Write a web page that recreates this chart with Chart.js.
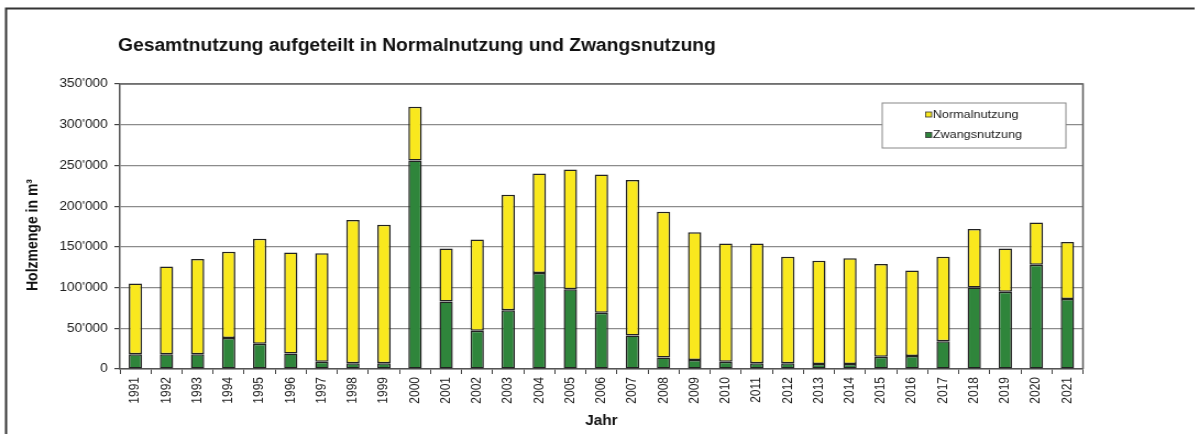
<!DOCTYPE html>
<html>
<head>
<meta charset="utf-8">
<script src="https://cdn.jsdelivr.net/npm/chart.js@4"></script>
<style>
  html, body { margin: 0; padding: 0; background: #fff; overflow: hidden; width: 1196px; height: 434px; }
  /* the reference is stretched horizontally ~1.1x, so we draw narrow and stretch */
  #wrap { width: 1090px; height: 434px; transform: scaleX(1.1); transform-origin: 0 0; }
</style>
</head>
<body>
<div id="wrap"><canvas id="chart1" width="1090" height="434"></canvas></div>
<script>
var years = ["1991","1992","1993","1994","1995","1996","1997","1998","1999","2000",
  "2001","2002","2003","2004","2005","2006","2007","2008","2009","2010",
  "2011","2012","2013","2014","2015","2016","2017","2018","2019","2020","2021"];

// Zwangsnutzung (bottom, green)
var zwang = [18000,18000,18000,38000,31000,19000,9000,7000,7000,256000,
  83000,47000,72000,118000,98000,69000,41000,14000,11000,9000,
  7000,7000,6000,6000,15000,16000,34000,100000,95000,128000,86000];

// Normalnutzung (top, yellow)
var normal = [87000,108000,117000,106000,129000,124000,133000,176000,170000,66000,
  65000,112000,142000,122000,147000,170000,191000,179000,157000,145000,
  147000,131000,127000,130000,114000,105000,104000,72000,53000,52000,70000];

var yTicks = [0,50000,100000,150000,200000,250000,300000,350000];

var titleText = "Gesamtnutzung aufgeteilt in Normalnutzung und Zwangsnutzung";
var yTitleText = "Holzmenge in m³";
var green = "#2f853b";
var yellow = "#f9e81e";

function fmt(v) {
  return String(v).replace(/\B(?=(\d{3})+(?!\d))/g, "'");
}

const ctx = document.getElementById("chart1");

var myChart = new Chart(ctx, {
  type: "bar",
  data: {
    labels: years,
    datasets: [
      {
        label: "Zwangsnutzung",
        data: zwang,
        backgroundColor: green,
        borderColor: "#222",
        borderWidth: 1.5,
        borderSkipped: false,
        barPercentage: 0.43,
        categoryPercentage: 1,
      },
      {
        label: "Normalnutzung",
        data: normal,
        backgroundColor: yellow,
        borderColor: "#222",
        borderWidth: 1.5,
        borderSkipped: false,
        barPercentage: 0.43,
        categoryPercentage: 1,
      },
    ],
  },
  options: {
    responsive: false,
    animation: false,
    devicePixelRatio: 1,
    events: [],
    layout: {
      padding: { left: 0, top: 84, right: 105.5, bottom: 0 },
    },
    plugins: {
      legend: { display: false },
      tooltip: { enabled: false },
    },
    scales: {
      x: {
        stacked: true,
        afterFit: function (scale) {
          scale.height = 65;
        },
        grid: {
          drawOnChartArea: false,
          tickLength: 5,
          tickColor: "#444",
        },
        border: { color: "#555", width: 1.5 },
        ticks: {
          minRotation: 90,
          maxRotation: 90,
          padding: 3,
          autoSkip: false,
          color: "#222",
          font: { family: "Liberation Sans", size: 12 },
        },
        title: {
          display: true,
          text: "Jahr",
          color: "#111",
          padding: { top: 0, bottom: 4 },
          font: { family: "Liberation Sans", size: 14, weight: "bold" },
        },
      },
      y: {
        stacked: true,
        min: 0,
        max: 350000,
        afterFit: function (scale) {
          scale.width = 109;
        },
        afterBuildTicks: function (scale) {
          scale.ticks = yTicks.map(function (v) { return { value: v }; });
        },
        grid: {
          color: "#8c8c8c",
          lineWidth: 1.2,
          tickLength: 5,
          tickColor: "#444",
        },
        border: { color: "#555", width: 1.5 },
        ticks: {
          padding: 6,
          color: "#222",
          font: { family: "Liberation Sans", size: 12.5 },
          callback: function (value) {
            return fmt(value);
          },
        },
      },
    },
  },
  plugins: [
    {
      id: "frameAndTitle",
      beforeDraw: (chart) => {
        const c = chart.ctx;
        c.save();
        c.fillStyle = "#fff";
        c.fillRect(0, 0, chart.width, chart.height);
        // outer frame (top + left)
        c.strokeStyle = "#333";
        c.lineWidth = 2;
        c.beginPath();
        c.moveTo(5.5, chart.height);
        c.lineTo(5.5, 8.5);
        c.lineTo(1086, 8.5);
        c.stroke();
        // title
        c.fillStyle = "#111";
        c.font = "bold 17.5px 'Liberation Sans'";
        c.textBaseline = "alphabetic";
        c.fillText(titleText, 107.3, 50.5);
        // y axis title, a bit below the plot centre like the original
        c.save();
        c.translate(30, 235);
        c.rotate(-Math.PI / 2);
        c.font = "bold 14px 'Liberation Sans'";
        c.textAlign = "center";
        c.textBaseline = "middle";
        c.fillText(yTitleText, 0, 0);
        c.restore();
        c.restore();
      },
      beforeDatasetsDraw: (chart) => {
        const c = chart.ctx;
        const a = chart.chartArea;
        c.save();
        c.strokeStyle = "#666";
        c.lineWidth = 1.6;
        c.beginPath();
        c.moveTo(a.left, a.top);
        c.lineTo(a.right, a.top);
        c.lineTo(a.right, a.bottom);
        c.stroke();
        c.restore();
      },
      afterDraw: (chart) => {
        // legend box inside the plot
        const c = chart.ctx;
        const ds = chart.data.datasets.slice().reverse();
        c.save();
        c.fillStyle = "#fff";
        c.fillRect(802, 103, 167, 45);
        c.strokeStyle = "#888";
        c.lineWidth = 1;
        c.strokeRect(802, 103, 167, 45);
        c.font = "11.5px 'Liberation Sans'";
        c.textBaseline = "middle";
        ds.forEach(function (d, i) {
          var cy = 114.5 + i * 20.5;
          c.fillStyle = d.backgroundColor;
          c.fillRect(841.5, cy - 2.5, 5.5, 5);
          c.strokeStyle = "#333";
          c.lineWidth = 0.8;
          c.strokeRect(841.5, cy - 2.5, 5.5, 5);
          c.fillStyle = "#222";
          c.fillText(d.label, 848, cy);
        });
        c.restore();
      },
    },
  ],
});
</script>
</body>
</html>
